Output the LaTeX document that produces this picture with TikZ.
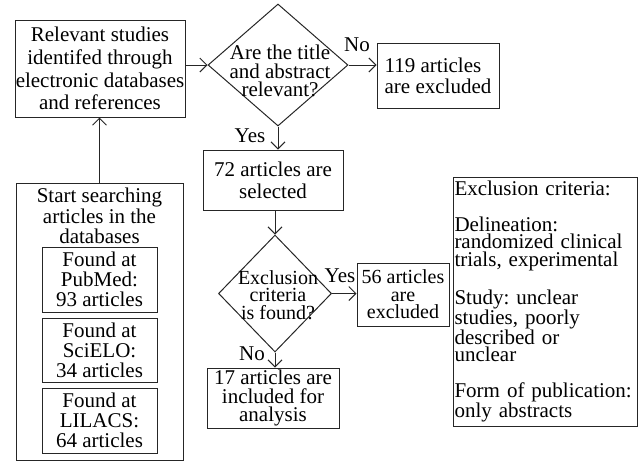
\documentclass[tikz,border=0pt]{standalone}
\usepackage{fontspec}
\setmainfont{Liberation Serif}
\usetikzlibrary{shapes.geometric,arrows.meta}
\frenchspacing
\begin{document}
\begin{tikzpicture}[x=1pt,y=-1pt,
  fs/.style={font=\fontsize{21}{#1}\selectfont\frenchspacing},
  fss/.style={font=\fontsize{20}{#1}\selectfont\frenchspacing},
  box/.style={draw=black!85, line width=1pt, inner sep=0pt, align=center},
  dia/.style={draw=black!85, line width=1pt, diamond, inner sep=0pt},
  txt/.style={inner sep=0pt, align=center},
  arr/.style={draw=black!85, line width=1pt, -{Straight Barb[length=7pt,width=14pt]}}]
\useasboundingbox (0,0) rectangle (638,461);

% top row
\node[box, fs=22.7, minimum width=170pt, minimum height=97pt] (rel) at (100,68.5)
  {Relevant studies\\identifed through\\electronic databases\\and references};
\node[dia, minimum width=140pt, minimum height=122pt] (d1) at (278,65) {};
\node[txt, fs=18.5] (d1t) at (280,71) {Are the title\\and abstract\\relevant?};
\node[box, align=left, fs=21, minimum width=122pt, minimum height=65pt] (ex1) at (438,75.5)
  {119 articles\\are excluded};

% middle column
\node[box, fs=21.7, minimum width=140pt, minimum height=60pt] (sel) at (273,180)
  {72 articles are\\selected};
\node[dia, minimum width=113pt, minimum height=117pt] (d2) at (275,293.5) {};
\node[txt, fss=17.5] (d2t) at (278,295) {Exclusion\\criteria\\is found?};
\node[box, fss=17.5, minimum width=92pt, minimum height=63pt] (ex2) at (403,294.5)
  {56 articles\\are\\excluded};
\node[box, fs=18.5, minimum width=132pt, minimum height=60pt] (inc) at (273,398)
  {17 articles are\\included for\\analysis};

% criteria box
\node[box, align=left, fs=17.5, text width=181pt, inner xsep=1.5pt, minimum height=249pt] (crit) at (545,301.5)
  {Exclusion criteria:\\[18pt]Delineation:\\randomized clinical\\trials, experimental\\[18pt]Study: unclear\\studies, poorly\\described or\\unclear\\[18pt]Form of publication:\\only abstracts};

% start box
\node[box, minimum width=167pt, minimum height=277pt] (start) at (99.5,321.5) {};
\node[txt, fs=20.5] (startt) at (99.5,216) {Start searching\\articles in the\\databases};
\node[box, fs=20, minimum width=115pt, minimum height=65pt] (pub) at (99.5,279.5) {Found at\\PubMed:\\93 articles};
\node[box, fs=20, minimum width=115pt, minimum height=64pt] (sci) at (99.5,350) {Found at\\SciELO:\\34 articles};
\node[box, fs=20, minimum width=115pt, minimum height=65pt] (lil) at (99.5,420.5) {Found at\\LILACS:\\64 articles};

% labels
\node[txt, fs=22] (no1) at (357,45) {No};
\node[txt, fs=22] (yes1) at (250,136) {Yes};
\node[txt, fs=22] (yes2) at (340,276) {Yes};
\node[txt, fs=22] (no2) at (252,354) {No};

% connectors
\draw[arr] (start.north) -- (start.north |- rel.south);
\draw[arr] (rel.east |- d1) -- (d1.west);
\draw[arr] (d1.east) -- (d1.east -| ex1.west);
\draw[arr] (d1.south) -- (d1.south |- sel.north);
\draw[arr] (sel.south -| d2.north) -- (d2.north);
\draw[arr] (d2.east) -- (d2.east -| ex2.west);
\draw[arr] (d2.south) -- (d2.south |- inc.north);
\end{tikzpicture}
\end{document}
